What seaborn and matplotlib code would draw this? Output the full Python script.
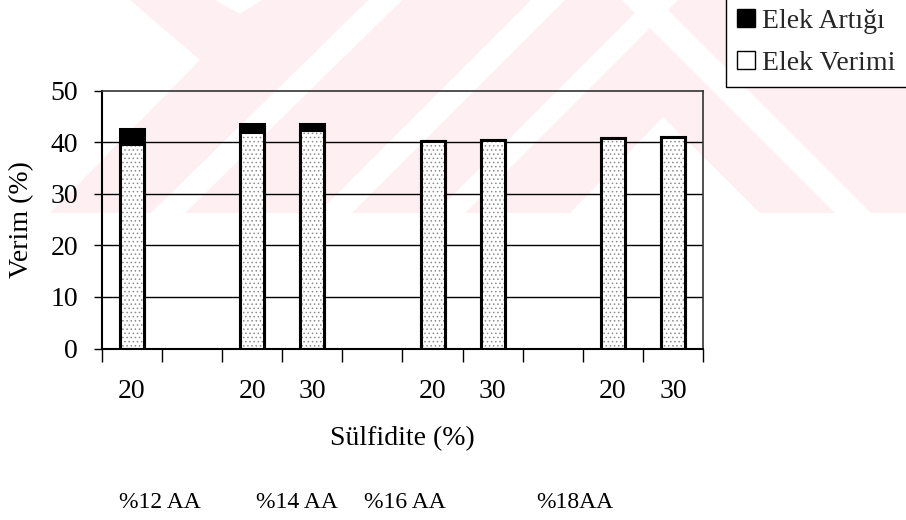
import matplotlib
matplotlib.use("Agg")
import matplotlib.pyplot as plt
import seaborn as sns
import pandas as pd
import numpy as np
from matplotlib.patches import Patch, Polygon
from matplotlib.ticker import FixedLocator, NullFormatter

# ---- data -------------------------------------------------------------
slot_ids = ["s0", "s1", "s2", "s3", "s4", "s5", "s6", "s7", "s8", "s9"]
sulfidite_labels = ["20", "", "20", "30", "", "20", "30", "", "20", "30"]
bar_slots = ["s0", "s2", "s3", "s5", "s6", "s8", "s9"]
elek_verimi = [39.6, 42.0, 42.4, 40.3, 40.4, 40.7, 41.0]
elek_artigi = [2.9, 1.5, 1.1, 0.0, 0.0, 0.0, 0.0]
group_labels = ["%12 AA", "%14 AA", "%16 AA", "%18AA"]
y_ticks = [0, 10, 20, 30, 40, 50]

df = pd.DataFrame({"slot": bar_slots, "verimi": elek_verimi, "artigi": elek_artigi})
df["toplam"] = df["verimi"] + df["artigi"]

# ---- style ------------------------------------------------------------
sns.set_style("white")
plt.rcParams["font.family"] = ["Liberation Serif", "DejaVu Serif"]
plt.rcParams["hatch.linewidth"] = 0.6
FS = 20
FS_GROUP = 17

W, H = 906, 520
fig = plt.figure(figsize=(W / 100, H / 100), dpi=100)


def fpt(x, y):
    return (x / W, 1 - y / H)


# faint diagonal background print in the upper band
pink = "#fdeff2"
fig.patches.append(Polygon([fpt(0, 0), fpt(W, 0), fpt(W, 213), fpt(0, 213)],
                           closed=True, transform=fig.transFigure,
                           facecolor=pink, edgecolor="none", zorder=-10))
white_shapes = [
    [(0, 0), (130, 0), (200, 60), (50, 213), (0, 213)],
    [(215, 0), (240, 14), (262, 0)],
    [(570, 213), (663, 117), (760, 213)],
    [(835, 213), (871, 213), (658, 0), (622, 0)],
]
for xb, w, s in [(168, 34, 1.02), (335, 34, 1.0), (450, 30, 1.0)]:
    white_shapes.append([(xb - w / 2, 213), (xb + w / 2, 213),
                         (xb + w / 2 + 213 * s, 0), (xb - w / 2 + 213 * s, 0)])
for shp in white_shapes:
    fig.patches.append(Polygon([fpt(*p) for p in shp], closed=True,
                               transform=fig.transFigure, facecolor="white",
                               edgecolor="none", zorder=-9))

ax = fig.add_axes([101.7 / W, 1 - 348.5 / H, (703.3 - 101.7) / W, (348.5 - 90.5) / H])
ax.set_facecolor("none")

# stacked bars: full height in black, then the screen yield on top of it
sns.barplot(data=df, x="slot", y="toplam", order=slot_ids, color="black",
            width=0.4, errorbar=None, edgecolor="black", linewidth=2.2, ax=ax)
sns.barplot(data=df, x="slot", y="verimi", order=slot_ids, color="white",
            width=0.4, errorbar=None, edgecolor="#8c8c8c", linewidth=0,
            hatch="....", saturation=1, ax=ax)
sns.barplot(data=df, x="slot", y="verimi", order=slot_ids, color="black",
            width=0.4, errorbar=None, fill=False, linewidth=2.2, ax=ax)

# horizontal gridlines behind the bars
ax.hlines(y_ticks[1:-1], -0.5, 9.5, color="black", lw=1.0, zorder=0.5)

ax.set_xlim(-0.5, 9.5)
ax.set_ylim(0, 50)
ax.set_yticks(y_ticks)
ax.set_yticklabels([str(v) for v in y_ticks])
ax.xaxis.set_major_locator(FixedLocator(np.arange(-0.5, 10, 1)))
ax.xaxis.set_major_formatter(NullFormatter())
ax.xaxis.set_minor_locator(FixedLocator(np.arange(10)))
ax.set_xticklabels(sulfidite_labels, minor=True)

ax.tick_params(axis="y", direction="out", length=6, width=1, pad=11,
               labelsize=FS, colors="black", left=True)
ax.tick_params(axis="x", which="major", direction="out", length=9, width=1,
               bottom=True, colors="black")
ax.tick_params(axis="x", which="minor", length=0, pad=22, labelsize=FS,
               labelcolor="black", bottom=True)

for side in ["left", "bottom"]:
    ax.spines[side].set_color("black")
    ax.spines[side].set_linewidth(1.5)
for side in ["top", "right"]:
    ax.spines[side].set_visible(True)
    ax.spines[side].set_color("#333333")
    ax.spines[side].set_linewidth(1.2)
    ax.spines[side].set_linestyle((0, (1, 1)))

ax.set_xlabel("Sülfidite (%)", fontsize=FS, labelpad=16, color="black")
ax.set_ylabel("Verim (%)", fontsize=FS, labelpad=12, color="black")

group_x = [160, 297, 405, 575]
for gx, txt in zip(group_x, group_labels):
    fig.text(gx / W, 1 - 502 / H, txt, fontsize=FS_GROUP, ha="center",
             va="center", color="black")

handles = [Patch(facecolor="black", edgecolor="black"),
           Patch(facecolor="white", edgecolor="black")]
leg = fig.legend(handles, ["Elek Artığı", "Elek Verimi"], loc="lower left",
                 bbox_to_anchor=fpt(726, 87), fontsize=FS, frameon=True,
                 fancybox=False, edgecolor="black", framealpha=1,
                 handlelength=0.65, handleheight=0.65, handletextpad=0.25,
                 labelspacing=0.62, borderpad=0.4, borderaxespad=0)
leg.get_frame().set_linewidth(1.0)

fig.savefig("out.png", dpi=100)
